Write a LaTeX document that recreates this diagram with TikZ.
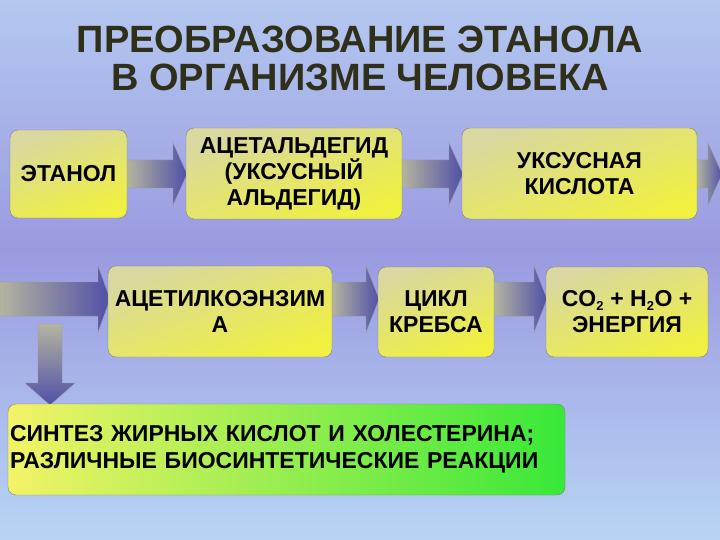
\documentclass[tikz,border=0pt]{standalone}
\usepackage{fontspec}
\setmainfont{Liberation Sans}
\usetikzlibrary{shapes.arrows}
\definecolor{bgtop}{HTML}{B4C8F0}
\definecolor{bgmid}{HTML}{9A9AE0}
\definecolor{bgbot}{HTML}{B8D4F4}
\definecolor{ttl}{HTML}{30301A}
\definecolor{yel}{HTML}{F0F040}
\definecolor{yelg}{HTML}{D8D8A0}
\definecolor{arrl}{HTML}{B4B4A0}
\definecolor{arrr}{HTML}{5050A8}
\definecolor{grn}{HTML}{38E838}
\tikzset{
 box/.style={rounded corners=8pt, draw=black!50, line width=0.4pt, inner sep=0pt, align=center,
   font=\bfseries\fontsize{23}{26}\selectfont, shading=axis, top color=yelg, bottom color=yel, shading angle=20},
 arr/.style={draw=black!40, line width=0.3pt, left color=arrl, right color=arrr},
 darr/.style={draw=black!40, line width=0.3pt, top color=arrl, bottom color=arrr},
}
\begin{document}
\begin{tikzpicture}[x=1pt,y=-1pt]
\shade[top color=bgtop, bottom color=bgmid] (0,0) rectangle (720,250);
\shade[top color=bgmid, bottom color=bgbot] (0,250) rectangle (720,540);
\useasboundingbox (0,0) rectangle (720,540);
\node[font=\bfseries\fontsize{38}{38}\selectfont, text=ttl, align=center] (title) at (360,58) {ПРЕОБРАЗОВАНИЕ ЭТАНОЛА\\В ОРГАНИЗМЕ ЧЕЛОВЕКА};
% arrows
\draw[arr] (127,160) -- (173,160) -- (173,143) -- (187,174) -- (173,205) -- (173,188) -- (127,188) -- cycle;
\draw[arr] (402,160) -- (449,160) -- (449,143) -- (463,174) -- (449,205) -- (449,188) -- (402,188) -- cycle;
\draw[arr] (697,160) -- (708,160) -- (708,143) -- (722,174) -- (708,205) -- (708,188) -- (697,188) -- cycle;
\draw[arr] (0,282) -- (98,282) -- (98,266) -- (110,299) -- (98,332) -- (98,316) -- (0,316) -- cycle;
\draw[arr] (332,282) -- (366,282) -- (366,266) -- (379,299) -- (366,332) -- (366,316) -- (332,316) -- cycle;
\draw[arr] (494,282) -- (534,282) -- (534,266) -- (547,299) -- (534,332) -- (534,316) -- (494,316) -- cycle;
\draw[darr] (38,324) -- (62,324) -- (62,383) -- (75,383) -- (50,405) -- (25,383) -- (38,383) -- cycle;
% boxes
\node[box, minimum width=117, minimum height=88] (b1) at (68.5,174) {ЭТАНОЛ};
\node[box, minimum width=216, minimum height=91] (b2) at (294,173.5) {АЦЕТАЛЬДЕГИД\\(УКСУСНЫЙ\\АЛЬДЕГИД)};
\node[box, minimum width=235, minimum height=91] (b3) at (579.5,173.5) {УКСУСНАЯ\\КИСЛОТА};
\node[box, minimum width=224, minimum height=91] (b4) at (220,311.5) {АЦЕТИЛКОЭНЗИМ\\А};
\node[box, minimum width=116, minimum height=90] (b5) at (436,312) {ЦИКЛ\\КРЕБСА};
\node[box, minimum width=162, minimum height=90] (b6) at (627,312) {CO\textsubscript{\fontsize{13}{13}\selectfont 2} + H\textsubscript{\fontsize{13}{13}\selectfont 2}O +\\ЭНЕРГИЯ};
\node[box, left color=yel!80!white, right color=grn, draw=black!50, minimum width=557, minimum height=91, align=left, text width=553, font=\bfseries\fontsize{23}{27}\selectfont] (b7) at (286.5,449.5) {СИНТЕЗ ЖИРНЫХ КИСЛОТ И ХОЛЕСТЕРИНА;\\РАЗЛИЧНЫЕ БИОСИНТЕТИЧЕСКИЕ РЕАКЦИИ};
\end{tikzpicture}
\end{document}
